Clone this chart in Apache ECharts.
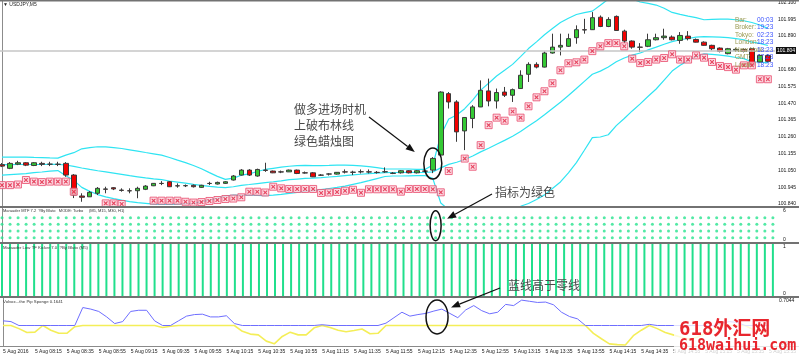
<!DOCTYPE html>
<html><head><meta charset="utf-8">
<script src="https://cdn.jsdelivr.net/npm/echarts@6/dist/echarts.min.js"></script>
<style>html,body{margin:0;padding:0;background:#fff}#c{width:799px;height:360px}</style>
</head><body><div id="c"></div>
<script>
// ---- data ----
const timeLabels = ['5 Aug 2016','5 Aug 08:15','5 Aug 08:35','5 Aug 08:55','5 Aug 09:15','5 Aug 09:35','5 Aug 09:55','5 Aug 10:15','5 Aug 10:35','5 Aug 10:55','5 Aug 11:15','5 Aug 11:35','5 Aug 11:55','5 Aug 12:15','5 Aug 12:35','5 Aug 12:55','5 Aug 13:15','5 Aug 13:35','5 Aug 13:55','5 Aug 14:15','5 Aug 14:35','5 Aug 14:55','5 Aug 15:15','5 Aug 15:35','5 Aug 15:55'];
const priceTicks = [100.840,100.945,101.050,101.155,101.260,101.365,101.470,101.575,101.680,101.785,101.890,101.995,102.100];
const bidPrice = 101.804;
const opens = [101.086,101.063,101.089,101.098,101.081,101.094,101.089,101.089,101.094,101.021,
100.890,100.885,100.907,100.934,100.942,100.927,100.923,100.923,100.932,100.954,
100.969,100.979,100.954,100.954,100.957,100.944,100.969,100.965,100.969,100.990,
101.021,101.052,101.015,101.052,101.046,101.041,101.041,101.052,101.035,101.035,
101.021,101.027,101.027,101.041,101.038,101.041,101.041,101.038,101.041,101.031,
101.035,101.048,101.035,101.046,101.052,101.146,101.530,101.478,101.297,101.375,
101.447,101.547,101.484,101.540,101.520,101.562,101.651,101.713,101.696,101.784,
101.821,101.826,101.880,101.930,101.930,102.008,101.950,102.013,101.921,101.859,
101.821,101.826,101.867,101.880,101.884,101.863,101.890,101.869,101.852,101.832,
101.815,101.780,101.801,101.807,101.811,101.728,101.769];
const closes = [101.077,101.094,101.098,101.083,101.098,101.088,101.089,101.088,101.021,100.896,
100.882,100.913,100.938,100.932,100.934,100.925,100.922,100.938,100.952,100.969,
100.968,100.948,100.953,100.955,100.948,100.957,100.968,100.975,100.979,101.015,
101.052,101.021,101.056,101.050,101.035,101.040,101.052,101.031,101.034,101.010,
101.020,101.028,101.038,101.040,101.039,101.042,101.040,101.037,101.042,101.033,
101.048,101.035,101.048,101.045,101.125,101.540,101.478,101.291,101.381,101.447,
101.551,101.484,101.537,101.520,101.555,101.645,101.713,101.696,101.784,101.821,
101.832,101.874,101.930,101.928,102.005,101.950,101.994,101.925,101.859,101.821,
101.820,101.867,101.880,101.890,101.867,101.894,101.874,101.852,101.832,101.811,
101.794,101.811,101.807,101.794,101.707,101.769,101.732];
const lows = [101.071,101.058,101.083,101.077,101.077,101.077,101.077,101.077,101.010,100.877,
100.854,100.884,100.896,100.907,100.927,100.917,100.907,100.876,100.927,100.952,
100.958,100.946,100.942,100.946,100.943,100.940,100.958,100.962,100.965,100.987,
101.018,101.015,101.011,101.041,101.033,101.033,101.040,101.027,101.030,101.008,
101.015,101.018,101.024,101.031,101.021,101.031,101.031,101.030,101.035,101.027,
101.030,101.031,101.031,101.040,101.033,101.139,101.437,101.229,101.177,101.314,
101.446,101.451,101.437,101.509,101.478,101.560,101.603,101.688,101.694,101.780,
101.769,101.822,101.842,101.905,101.928,101.946,101.946,101.924,101.846,101.811,
101.790,101.821,101.863,101.867,101.863,101.842,101.863,101.850,101.829,101.801,
101.788,101.776,101.794,101.788,101.704,101.726,101.726];
const highs = [101.096,101.102,101.110,101.102,101.102,101.104,101.104,101.104,101.102,101.027,
100.907,100.921,100.946,100.948,100.946,100.938,100.938,100.948,100.958,100.971,
100.983,100.983,100.969,100.962,100.962,100.960,100.979,100.980,100.983,101.021,
101.058,101.058,101.061,101.098,101.049,101.049,101.055,101.055,101.043,101.040,
101.027,101.033,101.040,101.056,101.048,101.056,101.056,101.046,101.069,101.040,
101.052,101.052,101.052,101.049,101.133,101.545,101.540,101.489,101.383,101.458,
101.613,101.624,101.562,101.572,101.562,101.676,101.726,101.726,101.794,101.905,
101.905,101.905,101.957,101.998,102.040,102.019,102.008,102.019,101.930,101.863,
101.846,101.905,101.905,101.936,101.894,101.915,101.921,101.875,101.857,101.836,
101.819,101.816,101.816,101.813,101.816,101.776,101.776];
const bandUpper = [101.133,101.133,101.133,101.133,101.131,101.130,101.128,101.127,101.146,101.161,
101.185,101.193,101.198,101.197,101.192,101.187,101.179,101.171,101.162,101.154,
101.146,101.131,101.114,101.099,101.081,101.060,101.036,101.013,100.994,101.002,
101.020,101.028,101.043,101.056,101.063,101.070,101.076,101.080,101.081,101.080,
101.080,101.081,101.083,101.083,101.081,101.079,101.074,101.067,101.060,101.059,
101.059,101.059,101.057,101.056,101.083,101.270,101.371,101.396,101.436,101.489,
101.552,101.595,101.640,101.676,101.713,101.762,101.812,101.854,101.898,101.937,
101.975,102.002,102.025,102.037,102.046,102.083,102.121,102.128,102.130,102.121,
102.103,102.094,102.084,102.064,102.038,102.026,102.015,102.005,101.992,101.995,
101.996,101.996,101.992,101.986,101.975,101.959,101.938];
const bandMiddle = [101.086,101.086,101.087,101.087,101.087,101.087,101.088,101.088,101.084,101.075,
101.065,101.056,101.048,101.041,101.033,101.025,101.017,101.010,101.003,100.997,
100.992,100.984,100.977,100.970,100.963,100.957,100.950,100.945,100.942,100.948,
100.957,100.962,100.968,100.974,100.979,100.985,100.992,100.996,101.000,101.002,
101.005,101.009,101.013,101.018,101.022,101.026,101.030,101.033,101.036,101.037,
101.037,101.038,101.037,101.037,101.041,101.066,101.088,101.101,101.118,101.140,
101.166,101.189,101.214,101.238,101.264,101.294,101.328,101.361,101.398,101.437,
101.476,101.518,101.562,101.607,101.651,101.671,101.697,101.729,101.753,101.771,
101.784,101.804,101.821,101.839,101.855,101.867,101.875,101.884,101.886,101.885,
101.884,101.880,101.874,101.867,101.852,101.844,101.831];
const bandLower = [101.021,101.024,101.027,101.030,101.036,101.040,101.046,101.049,101.017,100.988,
100.944,100.919,100.899,100.885,100.874,100.864,100.855,100.849,100.844,100.839,
100.837,100.837,100.839,100.842,100.844,100.854,100.864,100.876,100.890,100.895,
100.894,100.897,100.894,100.892,100.895,100.900,100.907,100.912,100.920,100.924,
100.930,100.937,100.944,100.952,100.963,100.974,100.986,100.999,101.012,101.015,
101.015,101.016,101.017,101.018,101.000,100.846,100.804,100.805,100.800,100.791,
100.781,100.784,100.788,100.799,100.815,100.826,100.843,100.868,100.897,100.937,
100.978,101.035,101.099,101.176,101.255,101.259,101.273,101.330,101.375,101.422,
101.466,101.514,101.559,101.615,101.671,101.708,101.736,101.762,101.779,101.776,
101.771,101.765,101.756,101.749,101.729,101.728,101.723];
const stopMarkers = [100.958,100.958,100.962,100.990,100.980,100.977,100.980,100.980,100.980,100.917,
null,null,null,100.844,100.844,100.840,null,null,null,100.861,
100.861,100.861,100.861,100.854,100.849,100.852,100.859,100.865,100.871,100.874,
100.882,100.917,100.917,100.912,100.948,100.938,100.934,100.934,100.934,100.934,
100.909,100.912,100.915,100.923,100.929,100.910,100.932,100.932,100.932,100.932,
100.917,100.934,100.934,100.934,100.932,100.913,101.046,null,101.124,101.073,
101.208,101.333,101.380,101.361,101.418,101.380,101.451,101.507,101.545,101.595,
101.676,101.720,101.726,101.743,101.796,101.826,101.846,101.846,101.826,101.749,
101.721,101.728,101.743,101.753,101.776,101.743,101.743,101.769,101.755,101.728,
101.703,101.696,101.680,101.707,101.707,101.620,101.620];
const volvox = [0.12,0.10,-0.08,-0.18,-0.17,0.0,-0.12,-0.2,-0.2,-0.03,
0.46,0.42,0.36,0.22,0.05,0.10,0.36,0.39,0.39,0.12,
-0.05,-0.02,0.12,0.24,0.28,0.29,0.22,0.22,0.25,0.05,
-0.15,-0.22,-0.24,-0.40,-0.47,-0.28,-0.17,-0.24,-0.24,-0.06,
0.02,-0.05,-0.12,-0.16,-0.13,-0.09,-0.21,-0.2,0.06,0.2,
0.34,0.24,0.28,0.31,0.37,0.42,0.31,0.2,0.4,0.51,
0.38,0.3,0.34,0.54,0.51,0.65,0.62,0.59,0.6,0.53,
0.34,0.23,0.17,0.0,-0.2,-0.34,-0.47,-0.49,-0.5,-0.26,
-0.12,0.03,-0.08,-0.18,-0.24,-0.3,-0.35,-0.3,-0.2,-0.1,
0.05,0.1,0.08,0.0,-0.1,-0.15,-0.2];
const mtfRows = [1,2,3,4];               // M5, M15, M30, H1 rows
const mtfSignal = 1;                     // all timeframes green on every bar
const kickerValue = 1;                   // low TF kicker histogram, full height
const dotPanelLabels = ['0','6'];
const kickerLabels = ['0','1'];
const volvoxRange = [-0.525, 0.7044];
const clockNames = ['Bar:','Broker:','Tokyo:','London:','New York:','GMT:','Local:'];
const clockValues = ['00:03','19:23','02:23','18:23','13:23','17:23','18:23'];

// ---- chart ----
const N = opens.length;
const XMIN = -0.25, XMAX = 96.886;
const idx = Array.from({length:N},(_,i)=>i);
const grids = [
  {left:0, width:780, top:0, height:206},
  {left:0, width:780, top:208, height:34},
  {left:0, width:780, top:244, height:52},
  {left:0, width:780, top:298, height:48}
];
function xAx(g, labels){
  const a = {type:'value', gridIndex:g, min:XMIN, max:XMAX,
    axisLine:{show:false}, axisTick:{show:false}, splitLine:{show:false}, axisLabel:{show:false}};
  if (labels) {
    a.axisLabel = {show:true, customValues: timeLabels.map((_,k)=>k*4),
      formatter: v => timeLabels[Math.round(v/4)], fontSize:5, color:'#222',
      fontFamily:'Liberation Sans', align:'left', margin:3};
  }
  return a;
}
const axisLineStyle = {show:true, lineStyle:{color:'#8c8c8c', width:1}};
const yAxes = [
  {type:'value', gridIndex:0, position:'right', min:100.8275, max:102.1125, axisLine:axisLineStyle,
   axisTick:{show:false}, splitLine:{show:false},
   axisLabel:{customValues:priceTicks, formatter:v=>v.toFixed(3), fontSize:5, color:'#111', margin:3, fontFamily:'Liberation Sans'}},
  {type:'value', gridIndex:1, position:'right', min:0.35, max:5.45, axisLine:axisLineStyle,
   axisTick:{show:false}, splitLine:{show:false},
   axisLabel:{customValues:[0.35,5.45], formatter:v=> v>3?dotPanelLabels[1]:dotPanelLabels[0], fontSize:5, color:'#111', margin:3,
     verticalAlignMaxLabel:'top', verticalAlignMinLabel:'bottom'}},
  {type:'value', gridIndex:2, position:'right', min:0, max:1, axisLine:axisLineStyle,
   axisTick:{show:false}, splitLine:{show:false},
   axisLabel:{customValues:[0,1], formatter:v=>kickerLabels[v], fontSize:5, color:'#111', margin:3,
     verticalAlignMaxLabel:'top', verticalAlignMinLabel:'bottom'}},
  {type:'value', gridIndex:3, position:'right', min:volvoxRange[0], max:volvoxRange[1], axisLine:axisLineStyle,
   axisTick:{show:false}, splitLine:{show:false},
   axisLabel:{customValues:volvoxRange, formatter:v=>v.toFixed(4), fontSize:5, color:'#111', margin:3,
     verticalAlignMaxLabel:'top', verticalAlignMinLabel:'bottom'}}
];
const bandColor = '#2fe4f2';
function bandSeries(arr){
  return {type:'line', xAxisIndex:0, yAxisIndex:0, data: idx.map(i=>[i,arr[i]]), showSymbol:false, symbol:'none',
    lineStyle:{color:bandColor, width:1.2}, z:2, silent:true};
}
const xPath = 'path://M0,0 L2,0 L5,3 L8,0 L10,0 L10,2 L7,5 L10,8 L10,10 L8,10 L5,7 L2,10 L0,10 L0,8 L3,5 L0,2 Z';
const markerData = idx.filter(i=>stopMarkers[i]!=null).map(i=>[i, stopMarkers[i]]);
const dotData = [];
idx.forEach(i=>mtfRows.forEach(r=>{ if (mtfSignal) dotData.push([i,r]); }));

const series = [
  bandSeries(bandUpper), bandSeries(bandMiddle), bandSeries(bandLower),
  {type:'candlestick', xAxisIndex:0, yAxisIndex:0, barWidth:5, z:3,
   encode:{x:0, y:[1,2,3,4]},
   data: idx.map(i=>[i, opens[i], closes[i], lows[i], highs[i]]),
   itemStyle:{color:'#34c934', color0:'#f20000', borderColor:'#3a3a3a', borderColor0:'#3a3a3a', borderColorDoji:'#3a3a3a', borderWidth:1},
   markLine:{silent:true, symbol:'none', data:[{yAxis:bidPrice}],
     lineStyle:{color:'#c6c6c6', width:1.5, type:'solid'},
     label:{show:true, position:'end', formatter: bidPrice.toFixed(3), color:'#fff', backgroundColor:'#111',
       fontSize:5, padding:[1,1,1,1], distance:1, fontFamily:'Liberation Sans'}}},
  {type:'scatter', xAxisIndex:0, yAxisIndex:0, data:markerData, symbol:'rect', symbolSize:7, z:5,
   itemStyle:{color:'#fbd3dd', borderColor:'#e84a6c', borderWidth:1}},
  {type:'scatter', xAxisIndex:0, yAxisIndex:0, data:markerData, symbol:xPath, symbolSize:4, z:6,
   itemStyle:{color:'#e0213f'}},
  {type:'scatter', xAxisIndex:1, yAxisIndex:1, data:dotData, symbol:'circle', symbolSize:3,
   itemStyle:{color:'#27e48f'}},
  {type:'bar', xAxisIndex:2, yAxisIndex:2, data: idx.map(i=>[i,kickerValue]), barWidth:2,
   itemStyle:{color:'#20df8c'}},
  {type:'line', xAxisIndex:3, yAxisIndex:3, data: idx.map(i=>[i, Math.min(volvox[i],0)]), showSymbol:false, symbol:'none',
   lineStyle:{color:'#f4ee58', width:1.6}, z:2},
  {type:'line', xAxisIndex:3, yAxisIndex:3, data: idx.map(i=>[i, Math.max(volvox[i],0)]), showSymbol:false, symbol:'none',
   lineStyle:{color:'#6e6eff', width:1}, z:3}
];

const chart = echarts.init(document.getElementById('c'), null, {renderer:'canvas'});
chart.setOption({
  animation:false, backgroundColor:'#ffffff',
  grid: grids,
  xAxis: [xAx(0), xAx(1), xAx(2), xAx(3, true)],
  yAxis: yAxes,
  series: series
});

// ---- annotations (anchored to data through the axes) ----
const e1 = chart.convertToPixel({gridIndex:0}, [54, 101.093]);
const e2 = chart.convertToPixel({gridIndex:1}, [54, 2.8]);
const e3 = chart.convertToPixel({gridIndex:3}, [54.4, 0.22]);
function arrow(x1,y1,x2,y2){
  const ang = Math.atan2(y2-y1, x2-x1), L = 9, W = 3.5;
  const bx = x2 - L*Math.cos(ang), by = y2 - L*Math.sin(ang);
  const px = -Math.sin(ang)*W, py = Math.cos(ang)*W;
  return [
    {type:'line', shape:{x1,y1,x2:bx,y2:by}, style:{stroke:'#111', lineWidth:1.2}, z:50},
    {type:'polygon', shape:{points:[[x2,y2],[bx+px,by+py],[bx-px,by-py]]}, style:{fill:'#111'}, z:50}
  ];
}
const sep = (y,w,c) => ({type:'line', shape:{x1:0,y1:y,x2:799,y2:y}, style:{stroke:c||'#727272', lineWidth:w}, z:40});
const txt = (x,y,t,size,color,font,weight,extra) => Object.assign({type:'text', x, y,
  style:{text:t, fill:color, font:(weight||'normal')+' '+size+'px '+(font||'Liberation Sans'), verticalAlign:'middle', align:'left'}, z:60}, extra||{});
const cjk = '"Noto Sans CJK SC"';
const g = [
  sep(0.75,1.5), sep(207,2), sep(243,2), sep(297,2), sep(346.5,1,'#8a8a8a'),
  txt(3,5,'\u25BC USDJPY,M5',5,'#222'),
  txt(3,211,'Marauder MTF 7.2  ?By Bluto   MODE: Turbo     (M5, M15, M30, H1)',4,'#333'),
  txt(3,248,'Marauder Low TF Kicker 7.0  ?By Bluto (M5)',4.3,'#333'),
  txt(3,302,'Volvox...the Pip Sponge 0.1641',4.3,'#333'),
  {type:'text', x:294, y:101, style:{text:'做多进场时机\n上破布林线\n绿色蜡烛图', fill:'#4a4a4a', font:'12px '+cjk, lineHeight:16, verticalAlign:'top'}, z:60},
  txt(495,192,'指标为绿色',12,'#4a4a4a',cjk),
  txt(508,285,'蓝线高于零线',12,'#4a4a4a',cjk),
  {type:'ellipse', shape:{cx:e1[0], cy:e1[1], rx:9, ry:15.5}, style:{fill:null, stroke:'#111', lineWidth:1.5}, z:55},
  {type:'ellipse', shape:{cx:e2[0], cy:e2[1], rx:5.5, ry:15}, style:{fill:null, stroke:'#111', lineWidth:1.5}, z:55},
  {type:'ellipse', shape:{cx:e3[0], cy:e3[1], rx:11, ry:17}, style:{fill:null, stroke:'#111', lineWidth:1.5}, z:55},
  ...arrow(369,117, e1[0]-18, e1[1]-11.5),
  ...arrow(492,194, e2[0]+11.5, e2[1]-7),
  ...arrow(500,288, e3[0]+14, e3[1]-9.5),
  {type:'rect', shape:{x:674,y:313,width:125,height:47}, style:{fill:'rgba(255,255,255,0.78)'}, z:70},
  txt(679,330,'618外汇网',19,'#e8262e','"DejaVu Sans Mono", '+cjk,'bold',{z:71}),
  txt(679,346,'618waihui.com',15,'#e8262e','"DejaVu Sans Mono"','bold',{z:71})
];
clockNames.forEach((n,k)=>{
  g.push(txt(735, 20+k*7.5, n, 6.5, '#9a9a52'));
  g.push(txt(757, 20+k*7.5, clockValues[k], 6.5, '#3d55ff'));
});
chart.setOption({graphic: g});
</script>
</body></html>
